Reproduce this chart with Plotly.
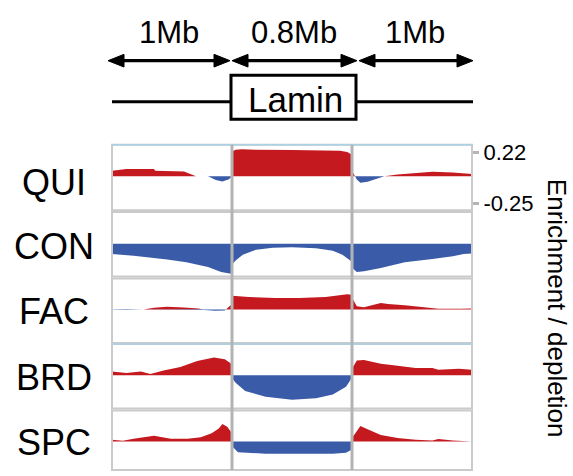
import plotly.graph_objects as go

W, H = 573, 476

# ---------------- data: position within segment (0..1) and enrichment value ----------------
row_names = ["QUI", "CON", "FAC", "BRD", "SPC"]

qui_l_x = [0.0, 0.12, 0.35, 0.36, 0.6, 0.70, 0.80, 0.865, 0.92, 0.975, 1.0]
qui_l_y = [0.05, 0.065, 0.065, 0.05, 0.044, 0.0, 0.0, -0.035, -0.047, -0.027, 0.0]
qui_m_x = [0.0, 0.03, 0.08, 0.2, 0.5, 0.8, 0.9, 0.96, 1.0]
qui_m_y = [0.225, 0.24, 0.245, 0.24, 0.238, 0.237, 0.232, 0.22, 0.195]
qui_r_x = [0.0, 0.01, 0.04, 0.07, 0.13, 0.21, 0.27, 0.38, 0.56, 0.67, 0.84, 0.92, 1.0]
qui_r_y = [0.03, 0.03, -0.03, -0.059, -0.05, -0.02, 0.0, 0.015, 0.035, 0.041, 0.035, 0.03, 0.02]

con_l_x = [0.0, 0.18, 0.46, 0.62, 0.8, 0.91, 0.98, 1.0]
con_l_y = [-0.095, -0.11, -0.145, -0.169, -0.213, -0.257, -0.272, -0.272]
con_m_x = [0.0, 0.03, 0.09, 0.2, 0.34, 0.5, 0.7, 0.84, 0.92, 0.98, 1.0]
con_m_y = [-0.192, -0.154, -0.10, -0.056, -0.038, -0.033, -0.041, -0.065, -0.10, -0.154, -0.165]
con_r_x = [0.0, 0.01, 0.04, 0.1, 0.24, 0.44, 0.67, 0.84, 0.93, 1.0]
con_r_y = [-0.228, -0.228, -0.257, -0.251, -0.222, -0.169, -0.139, -0.115, -0.095, -0.089]

fac_l_x = [0.0, 0.12, 0.26, 0.35, 0.46, 0.6, 0.72, 0.77, 0.86, 0.94, 0.97, 1.0]
fac_l_y = [-0.003, -0.005, 0.0, 0.015, 0.024, 0.018, 0.01, -0.005, -0.012, -0.01, 0.02, 0.05]
fac_m_x = [0.0, 0.14, 0.36, 0.56, 0.78, 0.92, 0.96, 1.0]
fac_m_y = [0.124, 0.113, 0.104, 0.104, 0.113, 0.133, 0.139, 0.133]
fac_r_x = [0.0, 0.01, 0.04, 0.1, 0.24, 0.30, 0.44, 0.61, 0.72, 0.9, 1.0]
fac_r_y = [0.1, 0.089, 0.03, 0.021, 0.059, 0.05, 0.038, 0.021, 0.006, 0.006, 0.009]

brd_l_x = [0.0, 0.12, 0.24, 0.32, 0.43, 0.57, 0.71, 0.85, 0.94, 0.98, 1.0]
brd_l_y = [0.035, 0.021, 0.035, 0.012, 0.044, 0.074, 0.130, 0.160, 0.145, 0.115, 0.10]
brd_m_x = [0.0, 0.03, 0.11, 0.28, 0.5, 0.7, 0.84, 0.95, 0.99, 1.0]
brd_m_y = [-0.024, -0.068, -0.142, -0.195, -0.222, -0.21, -0.175, -0.104, -0.038, -0.02]
brd_r_x = [0.0, 0.01, 0.04, 0.1, 0.24, 0.38, 0.53, 0.67, 0.72, 0.89, 1.0]
brd_r_y = [0.06, 0.08, 0.133, 0.139, 0.104, 0.086, 0.065, 0.065, 0.05, 0.059, 0.05]

spc_l_x = [0.0, 0.09, 0.18, 0.35, 0.49, 0.63, 0.74, 0.83, 0.89, 0.92, 0.96, 1.0]
spc_l_y = [0.015, 0.006, 0.024, 0.05, 0.024, 0.024, 0.038, 0.074, 0.118, 0.157, 0.133, 0.074]
spc_m_x = [0.0, 0.05, 0.28, 0.56, 0.84, 0.95, 1.0]
spc_m_y = [-0.044, -0.098, -0.112, -0.112, -0.112, -0.104, -0.074]
spc_r_x = [0.0, 0.01, 0.07, 0.13, 0.24, 0.38, 0.53, 0.67, 0.72, 0.84, 1.0]
spc_r_y = [0.03, 0.044, 0.139, 0.109, 0.059, 0.03, 0.015, 0.009, 0.021, 0.009, 0.0]

segment_labels = ["1Mb", "0.8Mb", "1Mb"]
tick_vals = [0.22, -0.25]
tick_text = ["0.22", "-0.25"]
axis_title = "Enrichment / depletion"
domain_label = "Lamin"

series = [
    [(qui_l_x, qui_l_y), (qui_m_x, qui_m_y), (qui_r_x, qui_r_y)],
    [(con_l_x, con_l_y), (con_m_x, con_m_y), (con_r_x, con_r_y)],
    [(fac_l_x, fac_l_y), (fac_m_x, fac_m_y), (fac_r_x, fac_r_y)],
    [(brd_l_x, brd_l_y), (brd_m_x, brd_m_y), (brd_r_x, brd_r_y)],
    [(spc_l_x, spc_l_y), (spc_m_x, spc_m_y), (spc_r_x, spc_r_y)],
]

RED = "#c4191f"
BLUE = "#3a5ca8"
FONT = "Liberation Sans, Arial, Helvetica, sans-serif"

# ---------------- layout geometry (pixels) ----------------
PX_L, PX_R = 112, 472
panel_rows = [(143, 210, 175.3), (212, 278, 244.3), (280, 346, 311.7), (347, 413, 379.0), (415, 476, 446.7)]
SCALE = 0.00887  # value per pixel
label_y = [182, 247, 314, 381, 448]


def fx(px):
    return px / W


def fy(py):
    return 1 - py / H


def split_sign(xs, ys):
    X, Y = [xs[0]], [ys[0]]
    for i in range(1, len(xs)):
        y0, y1 = ys[i - 1], ys[i]
        if y0 * y1 < 0:
            t = y0 / (y0 - y1)
            X.append(xs[i - 1] + t * (xs[i] - xs[i - 1]))
            Y.append(0.0)
        X.append(xs[i])
        Y.append(ys[i])
    return X, [max(v, 0) for v in Y], [min(v, 0) for v in Y]


fig = go.Figure()
for r, segs in enumerate(series):
    yname = "y" if r == 0 else f"y{r + 1}"
    for s, (xs, ys) in enumerate(segs):
        X, pos, neg = split_sign(xs, ys)
        X = [s + v for v in X]
        fig.add_trace(go.Scatter(x=X, y=pos, mode="lines", fill="tozeroy", fillcolor=RED,
                                 line=dict(width=0, color=RED), xaxis="x", yaxis=yname,
                                 hoverinfo="skip"))
        fig.add_trace(go.Scatter(x=X, y=neg, mode="lines", fill="tozeroy", fillcolor=BLUE,
                                 line=dict(width=0, color=BLUE), xaxis="x", yaxis=yname,
                                 hoverinfo="skip"))

layout = dict(
    width=W, height=H, margin=dict(l=0, r=0, t=0, b=0),
    paper_bgcolor="white", plot_bgcolor="white", showlegend=False,
    xaxis=dict(domain=[fx(PX_L), fx(PX_R)], range=[0, 3], visible=False, fixedrange=True),
)
for r, (top, bot, zero) in enumerate(panel_rows):
    key = "yaxis" if r == 0 else f"yaxis{r + 1}"
    ax = dict(domain=[fy(bot), fy(top)], range=[-(bot - zero) * SCALE, (zero - top) * SCALE],
              anchor="x", showgrid=False, zeroline=False, fixedrange=True)
    if r == 0:
        ax.update(side="right", tickvals=tick_vals, ticktext=tick_text, ticks="outside",
                  ticklen=6, tickwidth=3, tickcolor="#b5b5b5", showline=False,
                  tickfont=dict(family=FONT, size=22, color="black"))
    else:
        ax.update(visible=False)
    layout[key] = ax
fig.update_layout(**layout)

shapes = []
# panel borders
for r, (top, bot, zero) in enumerate(panel_rows):
    shapes.append(dict(type="rect", xref="paper", yref="paper", x0=fx(PX_L), x1=fx(PX_R),
                       y0=fy(bot), y1=fy(top), line=dict(color="#cacaca", width=2), layer="above"))
for top in (143, 347):
    shapes.append(dict(type="line", xref="paper", yref="paper", x0=fx(PX_L), x1=fx(PX_R),
                       y0=fy(top), y1=fy(top), line=dict(color="#a9d2e4", width=1.5), layer="above"))
# segment separators
for sx in (1, 2):
    shapes.append(dict(type="line", xref="x", yref="paper", x0=sx, x1=sx, y0=fy(143), y1=fy(476),
                       line=dict(color="#b3b3b3", width=3), layer="above"))

# header arrows
ARROW_Y = 57
arrows = [(108, 230), (232, 357), (359, 473)]
HL, HW = 16, 6.5
for a, b in arrows:
    shapes.append(dict(type="line", xref="paper", yref="paper", x0=fx(a + HL - 2), x1=fx(b - HL + 2),
                       y0=fy(ARROW_Y), y1=fy(ARROW_Y), line=dict(color="black", width=3.2)))
    for tip, base in ((a, a + HL), (b, b - HL)):
        path = (f"M {fx(tip)} {fy(ARROW_Y)} L {fx(base)} {fy(ARROW_Y - HW)} "
                f"L {fx(base)} {fy(ARROW_Y + HW)} Z")
        shapes.append(dict(type="path", xref="paper", yref="paper", path=path,
                           fillcolor="black", line=dict(color="black", width=1)))
# lamin box and chromosome line
shapes.append(dict(type="rect", xref="paper", yref="paper", x0=fx(231), x1=fx(356),
                   y0=fy(117), y1=fy(72), line=dict(color="black", width=3)))
for a, b in ((112, 231), (356, 473)):
    shapes.append(dict(type="line", xref="paper", yref="paper", x0=fx(a), x1=fx(b),
                       y0=fy(99), y1=fy(99), line=dict(color="black", width=3)))
fig.update_layout(shapes=shapes)

ann = []
for name, ly in zip(row_names, label_y):
    ann.append(dict(x=fx(54), y=fy(ly), xref="paper", yref="paper", text=name, showarrow=False,
                    xanchor="center", yanchor="middle", font=dict(family=FONT, size=36, color="black")))
for lab, cx in zip(segment_labels, (169, 294, 415)):
    ann.append(dict(x=fx(cx), y=fy(28), xref="paper", yref="paper", text=lab, showarrow=False,
                    xanchor="center", yanchor="middle", font=dict(family=FONT, size=31, color="black")))
ann.append(dict(x=fx(295), y=fy(97), xref="paper", yref="paper", text=domain_label, showarrow=False,
                xanchor="center", yanchor="middle", font=dict(family=FONT, size=35, color="black")))
ann.append(dict(x=fx(557), y=fy(310), xref="paper", yref="paper", text=axis_title, showarrow=False,
                textangle=90, xanchor="center", yanchor="middle",
                font=dict(family=FONT, size=26, color="black")))
fig.update_layout(annotations=ann)

fig.write_html("out.html")
